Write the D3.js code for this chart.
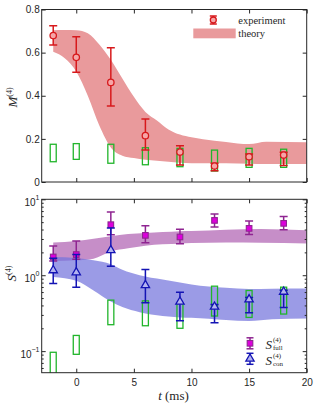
<!DOCTYPE html>
<html>
<head>
<meta charset="utf-8">
<script src="https://cdn.jsdelivr.net/npm/d3@7"></script>
<style>
  body { margin: 0; background: #fff; }
  svg text { font-family: "Liberation Sans", Arial, sans-serif; fill: #262626; }
  .serif { font-family: "Liberation Serif", "Times New Roman", serif !important; }
</style>
</head>
<body>
<div id="chart"></div>
<script>
// Measurement times (ms)
const times = [-2, 0, 3, 6, 9, 12, 15, 18];

// Top panel: M(4) experiment with error bars
const mExp   = [0.679, 0.578, 0.462, 0.215, 0.139, 0.074, 0.117, 0.125];
const mExpLo = [0.635, 0.509, 0.352, 0.148, 0.079, 0.052, 0.079, 0.076];
const mExpHi = [0.725, 0.674, 0.623, 0.292, 0.168, 0.087, 0.130, 0.138];
// green boxes (top)
const mBoxLo = [0.094, 0.105, 0.087, 0.080, 0.071, 0.051, 0.068, 0.068];
const mBoxHi = [0.175, 0.178, 0.175, 0.159, 0.156, 0.148, 0.156, 0.152];
// theory band (top)
const mBandT  = [-2, -1, 0, 1, 2, 3, 4, 5, 6, 7, 8, 9, 10, 11, 13, 15, 16.5, 20];
const mBandHi = [0.704, 0.705, 0.704, 0.690, 0.638, 0.567, 0.480, 0.395, 0.325, 0.285, 0.244, 0.220, 0.207, 0.198, 0.186, 0.176, 0.187, 0.184];
const mBandLo = [0.604, 0.574, 0.512, 0.400, 0.262, 0.160, 0.122, 0.111, 0.103, 0.098, 0.094, 0.089, 0.087, 0.087, 0.087, 0.085, 0.083, 0.083];

// Bottom panel: S(4) full / con
const sFull   = [1.74, 1.87, 4.63, 3.35, 3.19, 5.27, 4.14, 4.82];
const sFullLo = [1.54, 1.62, 3.42, 2.68, 2.60, 4.31, 3.45, 3.98];
const sFullHi = [2.42, 2.82, 6.78, 4.49, 4.02, 6.38, 5.17, 5.95];
const sCon    = [1.16, 1.09, 2.13, 0.739, 0.447, 0.384, 0.48, 0.604];
const sConLo  = [0.778, 0.696, 1.31, 0.433, 0.251, 0.237, 0.32, 0.376];
const sConHi  = [1.67, 1.87, 4.18, 1.19, 0.598, 0.41, 0.51, 0.635];
// green boxes (bottom)
const sBoxLo = [0.04, 0.0908, 0.223, 0.216, 0.20, 0.29, 0.278, 0.308];
const sBoxHi = [0.0966, 0.161, 0.47, 0.46, 0.425, 0.717, 0.629, 0.696];
// theory bands (bottom)
const fullBandT  = [-2, 0, 1.5, 3, 4.5, 6, 7.5, 9, 10, 13, 16, 20];
const fullBandHi = [2.69, 2.82, 3.03, 3.27, 3.50, 3.60, 3.70, 3.80, 3.82, 3.97, 4.05, 3.90];
const fullBandLo = [1.54, 1.57, 1.65, 2.05, 2.26, 2.45, 2.55, 2.60, 2.65, 2.69, 2.67, 2.61];
const conBandT  = [-2, 0, 1.5, 3, 4, 5.5, 7.5, 9, 10, 13, 15, 17, 20];
const conBandHi = [1.74, 1.69, 1.58, 1.40, 1.18, 1.00, 0.877, 0.80, 0.755, 0.682, 0.66, 0.665, 0.67];
const conBandLo = [0.95, 0.843, 0.63, 0.45, 0.38, 0.325, 0.29, 0.278, 0.275, 0.257, 0.249, 0.263, 0.27];

const xTicks = [0, 5, 10, 15, 20];
const mTicks = [0, 0.2, 0.4, 0.6, 0.8];
const sTicks = [0.1, 1, 10];
const sTickLabels = ['-1', '0', '1'];

const axisColor = '#262626';

const svg = d3.select('#chart').append('svg')
    .attr('width', 322)
    .attr('height', 406);

const x = d3.scaleLinear().domain([-3, 20]).range([41.7, 306.7]);
const yM = d3.scaleLinear().domain([0, 0.8]).range([182, 9.5]);
const yS = d3.scaleLog().domain([0.052, 10]).range([372.7, 199.3]);

// clip paths
const defs = svg.append('defs');
defs.append('clipPath').attr('id', 'clipTop').append('rect')
    .attr('x', x.range()[0]).attr('y', yM.range()[1])
    .attr('width', x.range()[1] - x.range()[0]).attr('height', yM.range()[0] - yM.range()[1]);
defs.append('clipPath').attr('id', 'clipBot').append('rect')
    .attr('x', x.range()[0]).attr('y', yS.range()[1])
    .attr('width', x.range()[1] - x.range()[0]).attr('height', yS.range()[0] - yS.range()[1]);

function band(g, T, lo, hi, y, fill, opacity) {
    const area = d3.area()
        .x((d, i) => x(T[i]))
        .y0((d, i) => y(lo[i]))
        .y1((d, i) => y(hi[i]))
        .curve(d3.curveMonotoneX);
    g.append('path')
        .datum(T)
        .attr('d', area)
        .attr('fill', fill)
        .attr('fill-opacity', opacity);
}

function boxes(g, lo, hi, y) {
    g.selectAll(null)
        .data(times)
        .enter()
        .append('rect')
        .attr('x', d => x(d) - 3)
        .attr('width', 6)
        .attr('y', (d, i) => y(hi[i]))
        .attr('height', (d, i) => y(lo[i]) - y(hi[i]))
        .attr('fill', 'none')
        .attr('stroke', '#21b52b')
        .attr('stroke-width', 1.3);
}

function errorBars(g, lo, hi, y, color) {
    const eb = g.selectAll(null).data(times).enter().append('g')
        .attr('stroke', color)
        .attr('stroke-width', 1.5);
    eb.append('line')
        .attr('x1', d => x(d)).attr('x2', d => x(d))
        .attr('y1', (d, i) => y(lo[i])).attr('y2', (d, i) => y(hi[i]));
    eb.append('line')
        .attr('x1', d => x(d) - 4).attr('x2', d => x(d) + 4)
        .attr('y1', (d, i) => y(lo[i])).attr('y2', (d, i) => y(lo[i]));
    eb.append('line')
        .attr('x1', d => x(d) - 4).attr('x2', d => x(d) + 4)
        .attr('y1', (d, i) => y(hi[i])).attr('y2', (d, i) => y(hi[i]));
}

function frame(yTop, yBot) {
    svg.append('rect')
        .attr('x', x.range()[0]).attr('y', yTop)
        .attr('width', x.range()[1] - x.range()[0])
        .attr('height', yBot - yTop)
        .attr('fill', 'none')
        .attr('stroke', axisColor)
        .attr('stroke-width', 1);
}

function cleanAxis(g) {
    g.select('.domain').remove();
    g.selectAll('.tick line').attr('stroke', axisColor);
    g.selectAll('.tick text').attr('fill', axisColor).style('font-size', '10px');
}

// ---------- Top panel ----------
const topG = svg.append('g').attr('clip-path', 'url(#clipTop)');
band(topG, mBandT, mBandLo, mBandHi, yM, '#e99a9c', 1);
boxes(topG, mBoxLo, mBoxHi, yM);
errorBars(topG, mExpLo, mExpHi, yM, '#d7191c');
topG.selectAll(null).data(times).enter().append('circle')
    .attr('cx', d => x(d))
    .attr('cy', (d, i) => yM(mExp[i]))
    .attr('r', 3.2)
    .attr('fill', '#f6a5a7')
    .attr('stroke', '#d7191c')
    .attr('stroke-width', 1.3);

svg.append('g').attr('transform', `translate(0,${yM.range()[0]})`)
    .call(d3.axisBottom(x).tickValues(xTicks).tickSize(-4).tickFormat(''))
    .call(cleanAxis);
svg.append('g').attr('transform', `translate(0,${yM.range()[1]})`)
    .call(d3.axisTop(x).tickValues(xTicks).tickSize(-4).tickFormat(''))
    .call(cleanAxis);
svg.append('g').attr('transform', `translate(${x.range()[0]},0)`)
    .call(d3.axisLeft(yM).tickValues(mTicks).tickSize(-4).tickPadding(2)
        .tickFormat(d => d === 0 ? '0' : d.toFixed(1)))
    .call(cleanAxis);
svg.append('g').attr('transform', `translate(${x.range()[1]},0)`)
    .call(d3.axisRight(yM).tickValues(mTicks).tickSize(-4).tickFormat(''))
    .call(cleanAxis);
frame(yM.range()[1], yM.range()[0]);

// y label M(4)
const mLabel = svg.append('text')
    .attr('class', 'serif')
    .attr('transform', 'translate(16.5,97.5) rotate(-90)')
    .attr('text-anchor', 'middle')
    .style('font-size', '13px');
mLabel.append('tspan').style('font-style', 'italic').text('M');
mLabel.append('tspan').attr('dy', -5).style('font-size', '8px').text('(4)');

// top legend
const lg1 = svg.append('g');
lg1.append('line').attr('x1', 213.3).attr('x2', 213.3).attr('y1', 16).attr('y2', 24)
    .attr('stroke', '#d7191c').attr('stroke-width', 1.5);
[16, 24].forEach(yy => lg1.append('line').attr('x1', 209.8).attr('x2', 216.8)
    .attr('y1', yy).attr('y2', yy).attr('stroke', '#d7191c').attr('stroke-width', 1.5));
lg1.append('circle').attr('cx', 213.3).attr('cy', 20).attr('r', 3)
    .attr('fill', '#f6a5a7').attr('stroke', '#d7191c').attr('stroke-width', 1.3);
lg1.append('text').attr('class', 'serif').attr('x', 238.3).attr('y', 23.5)
    .style('font-size', '10.5px').text('experiment');
lg1.append('rect').attr('x', 193.3).attr('y', 28.5).attr('width', 42.4).attr('height', 9.8)
    .attr('fill', '#e99a9c');
lg1.append('text').attr('class', 'serif').attr('x', 238.3).attr('y', 36.5)
    .style('font-size', '10.5px').text('theory');

// ---------- Bottom panel ----------
const botG = svg.append('g').attr('clip-path', 'url(#clipBot)');
band(botG, fullBandT, fullBandLo, fullBandHi, yS, '#c68ec8', 1);
band(botG, conBandT, conBandLo, conBandHi, yS, '#7474dc', 0.72);
boxes(botG, sBoxLo, sBoxHi, yS);
errorBars(botG, sFullLo, sFullHi, yS, '#8f2491');
botG.selectAll(null).data(times).enter().append('rect')
    .attr('x', d => x(d) - 2.8)
    .attr('y', (d, i) => yS(sFull[i]) - 2.8)
    .attr('width', 5.6).attr('height', 5.6)
    .attr('fill', '#dd00dd')
    .attr('stroke', '#8f2491')
    .attr('stroke-width', 1.1);
errorBars(botG, sConLo, sConHi, yS, '#1414b4');
const tri = d3.symbol().type(d3.symbolTriangle).size(30);
botG.selectAll(null).data(times).enter().append('path')
    .attr('d', tri)
    .attr('transform', (d, i) => `translate(${x(d)},${yS(sCon[i])})`)
    .attr('fill', '#b4b4f0')
    .attr('stroke', '#1414b4')
    .attr('stroke-width', 1.3);

const minorTicks = [];
[0.01, 0.1, 1].forEach(dec => {
    for (let k = 2; k <= 9; k++) {
        const v = dec * k;
        if (v > yS.domain()[0] && v < yS.domain()[1]) minorTicks.push(v);
    }
});

svg.append('g').attr('transform', `translate(0,${yS.range()[0]})`)
    .call(d3.axisBottom(x).tickValues(xTicks).tickSize(-4).tickPadding(6))
    .call(cleanAxis);
svg.append('g').attr('transform', `translate(0,${yS.range()[1]})`)
    .call(d3.axisTop(x).tickValues(xTicks).tickSize(-4).tickFormat(''))
    .call(cleanAxis);
svg.append('g').attr('transform', `translate(${x.range()[0]},0)`)
    .call(d3.axisLeft(yS).tickValues(sTicks).tickSize(-4).tickFormat(''))
    .call(cleanAxis);
svg.append('g').attr('transform', `translate(${x.range()[0]},0)`)
    .call(d3.axisLeft(yS).tickValues(minorTicks).tickSize(-2).tickFormat(''))
    .call(cleanAxis);
svg.append('g').attr('transform', `translate(${x.range()[1]},0)`)
    .call(d3.axisRight(yS).tickValues(sTicks).tickSize(-4).tickFormat(''))
    .call(cleanAxis);
svg.append('g').attr('transform', `translate(${x.range()[1]},0)`)
    .call(d3.axisRight(yS).tickValues(minorTicks).tickSize(-2).tickFormat(''))
    .call(cleanAxis);
frame(yS.range()[1], yS.range()[0]);

// log tick labels 10^k
sTicks.forEach((v, i) => {
    const t = svg.append('text')
        .attr('x', 39.5)
        .attr('y', yS(v) + 6.5)
        .attr('text-anchor', 'end')
        .style('font-size', '10px');
    t.append('tspan').text('10');
    t.append('tspan').attr('dy', -6).style('font-size', '7px')
        .text(sTickLabels[i].replace('-', '\u2212'));
});

// y label S(4)
const sLabel = svg.append('text')
    .attr('class', 'serif')
    .attr('transform', 'translate(15.5,273.5) rotate(-90)')
    .attr('text-anchor', 'middle')
    .style('font-size', '13px');
sLabel.append('tspan').style('font-style', 'italic').text('S');
sLabel.append('tspan').attr('dy', -5).style('font-size', '8px').text('(4)');

// x label
const xLabel = svg.append('text')
    .attr('class', 'serif')
    .attr('x', 173.5).attr('y', 399.5)
    .attr('text-anchor', 'middle')
    .style('font-size', '13px');
xLabel.append('tspan').style('font-style', 'italic').text('t');
xLabel.append('tspan').text(' (ms)');

// bottom legend
function legendBar(g, cx, cy, color) {
    g.append('line').attr('x1', cx).attr('x2', cx).attr('y1', cy - 5.5).attr('y2', cy + 5.5)
        .attr('stroke', color).attr('stroke-width', 1.5);
    [cy - 5.5, cy + 5.5].forEach(yy => g.append('line')
        .attr('x1', cx - 3.5).attr('x2', cx + 3.5).attr('y1', yy).attr('y2', yy)
        .attr('stroke', color).attr('stroke-width', 1.5));
}
const lg2 = svg.append('g');
legendBar(lg2, 250, 343.3, '#8f2491');
lg2.append('rect').attr('x', 247.2).attr('y', 340.5).attr('width', 5.6).attr('height', 5.6)
    .attr('fill', '#dd00dd').attr('stroke', '#8f2491').attr('stroke-width', 1.1);
legendBar(lg2, 250, 358.8, '#1414b4');
lg2.append('path').attr('d', tri).attr('transform', 'translate(250,358.8)')
    .attr('fill', '#b4b4f0').attr('stroke', '#1414b4').attr('stroke-width', 1.3);

[['full', 348.5], ['con', 364.5]].forEach(([sub, base]) => {
    lg2.append('text').attr('class', 'serif').attr('x', 265.5).attr('y', base)
        .style('font-size', '13px').style('font-style', 'italic').text('S');
    lg2.append('text').attr('class', 'serif').attr('x', 273).attr('y', base - 6.5)
        .style('font-size', '7px').text('(4)');
    lg2.append('text').attr('class', 'serif').attr('x', 273).attr('y', base + 1.5)
        .style('font-size', '7px').text(sub);
});
</script>
</body>
</html>
